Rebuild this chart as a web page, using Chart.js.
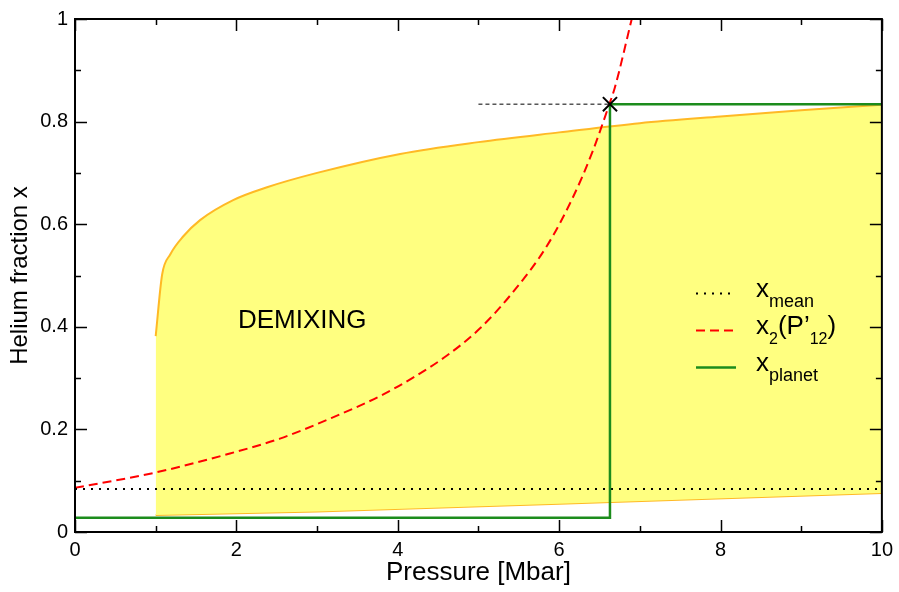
<!DOCTYPE html>
<html>
<head>
<meta charset="utf-8">
<title>Helium demixing</title>
<script src="https://cdn.jsdelivr.net/npm/chart.js@4.4.1/dist/chart.umd.min.js"></script>
<style>
  html, body { margin: 0; padding: 0; background: #fff; }
  canvas { display: block; }
</style>
</head>
<body>
<canvas id="myChart" width="899" height="592"></canvas>
<script>
// ------------------------------------------------------------------ data section
// demixing region (upper and lower boundary), pressure in Mbar
var upper_p = [1, 1.08, 1.18, 1.34, 1.55, 1.96, 2.38, 3.0, 4.03, 5, 6, 7, 8, 9, 10];
var upper_x = [0.382, 0.502, 0.541, 0.576, 0.608, 0.647, 0.672, 0.70, 0.737, 0.76, 0.779, 0.797, 0.810, 0.822, 0.833];
var lower_p = [1, 3, 6, 10];
var lower_x = [0.033, 0.040, 0.055, 0.076];

// x_mean
var mean_p = [0, 10];
var mean_x = [0.084, 0.084];

// x2(P'12)
var x2_p = [0, 1, 1.92, 2.54, 3.16, 3.78, 4.19, 4.61, 5.02, 5.43, 5.85, 6.17, 6.42, 6.62, 6.69, 6.9];
var x2_x = [0.086, 0.116, 0.153, 0.182, 0.221, 0.265, 0.301, 0.344, 0.397, 0.468, 0.558, 0.652, 0.744, 0.833, 0.866, 1.0];

// x_planet
var planet_p = [0, 6.63, 6.63, 10];
var planet_x = [0.028, 0.028, 0.834, 0.834];

// crossing point and guide line
var cross_p = [6.63];
var cross_x = [0.834];
var guide_p = [5.0, 6.63];
var guide_x = [0.834, 0.834];

// ticks
var x_ticks = [0, 2, 4, 6, 8, 10];
var x_minor = [1, 3, 5, 7, 9];
var y_ticks = [0, 0.2, 0.4, 0.6, 0.8, 1];
var y_minor = [0.1, 0.3, 0.5, 0.7, 0.9];

// legend texts: [text, is subscript]
var legend_labels = [
    [['x', false], ['mean', true]],
    [['x', false], ['2', true], ['(P\u2019', false], ['12', true], [')', false]],
    [['x', false], ['planet', true]]
];
var region_label = 'DEMIXING';
var region_label_at = [2.02, 0.397];

// ------------------------------------------------------------------ helpers
function pts(px, py) {
    return px.map(function (p, i) { return { x: p, y: py[i] }; });
}

var FONT = "'Liberation Sans', Arial, sans-serif";

// frame with inward ticks on all four sides
const frameTicks = {
    id: 'frameTicks',
    afterDatasetsDraw(chart) {
        const ctx = chart.ctx;
        const a = chart.chartArea;
        const xs = chart.scales.x, ys = chart.scales.y;
        ctx.save();
        ctx.strokeStyle = '#000';
        ctx.lineWidth = 1.5;
        ctx.beginPath();
        function xt(v, len) {
            var px = Math.round(xs.getPixelForValue(v)) + 0.5;
            ctx.moveTo(px, a.bottom); ctx.lineTo(px, a.bottom - len);
            ctx.moveTo(px, a.top); ctx.lineTo(px, a.top + len);
        }
        function yt(v, len) {
            var py = Math.round(ys.getPixelForValue(v)) + 0.5;
            ctx.moveTo(a.left, py); ctx.lineTo(a.left + len, py);
            ctx.moveTo(a.right, py); ctx.lineTo(a.right - len, py);
        }
        x_ticks.forEach(function (v) { xt(v, 12); });
        x_minor.forEach(function (v) { xt(v, 6); });
        y_ticks.forEach(function (v) { yt(v, 12); });
        y_minor.forEach(function (v) { yt(v, 6); });
        ctx.stroke();
        ctx.lineWidth = 2;
        ctx.strokeRect(a.left, a.top, a.right - a.left, a.bottom - a.top);
        ctx.restore();
    }
};

// legend with subscripts + region label
const textPlugin = {
    id: 'textPlugin',
    afterDatasetsDraw(chart) {
        const ctx = chart.ctx;
        const xs = chart.scales.x, ys = chart.scales.y;
        ctx.save();
        ctx.fillStyle = '#000';
        ctx.textBaseline = 'alphabetic';
        ctx.textAlign = 'left';

        ctx.font = '26px ' + FONT;
        ctx.fillText(region_label, xs.getPixelForValue(region_label_at[0]), ys.getPixelForValue(region_label_at[1]));

        var rows = [2, 3, 4]; // dataset index for each legend row
        var base = 297;
        rows.forEach(function (di, r) {
            var ds = chart.data.datasets[di];
            var by = base + r * 37;
            var ly = by - 3.5;
            ctx.save();
            ctx.strokeStyle = ds.borderColor;
            ctx.lineWidth = ds.borderWidth;
            ctx.setLineDash(ds.borderDash || []);
            ctx.beginPath();
            ctx.moveTo(696, ly);
            ctx.lineTo(736, ly);
            ctx.stroke();
            ctx.restore();

            var tx = 756;
            legend_labels[r].forEach(function (part) {
                if (part[1]) {
                    ctx.font = (/^\d+$/.test(part[0]) ? '16px ' : '18px ') + FONT;
                    ctx.fillText(part[0], tx, by + 10);
                } else {
                    ctx.font = '26px ' + FONT;
                    ctx.fillText(part[0], tx, by);
                }
                tx += ctx.measureText(part[0]).width;
            });
        });
        ctx.restore();
    }
};

// ------------------------------------------------------------------ chart
const ctx = document.getElementById('myChart').getContext('2d');
const myChart = new Chart(ctx, {
    type: 'line',
    data: {
        datasets: [{
            label: 'demixing upper',
            data: pts(upper_p, upper_x),
            borderColor: '#ffb925',
            backgroundColor: '#ffff80',
            borderWidth: 2,
            cubicInterpolationMode: 'monotone',
            fill: '+1',
            pointRadius: 0,
            order: 5
        }, {
            label: 'demixing lower',
            data: pts(lower_p, lower_x),
            borderColor: '#ffb925',
            borderWidth: 2,
            fill: false,
            pointRadius: 0,
            order: 5
        }, {
            label: 'x mean',
            data: pts(mean_p, mean_x),
            borderColor: '#000',
            borderWidth: 2,
            borderDash: [2, 6],
            fill: false,
            pointRadius: 0,
            order: 2
        }, {
            label: 'x2(P12)',
            data: pts(x2_p, x2_x),
            borderColor: '#ff0000',
            borderWidth: 2,
            borderDash: [9, 5],
            cubicInterpolationMode: 'monotone',
            fill: false,
            pointRadius: 0,
            order: 2
        }, {
            label: 'x planet',
            data: pts(planet_p, planet_x),
            borderColor: '#1c8c1c',
            borderWidth: 2.5,
            fill: false,
            pointRadius: 0,
            order: 1
        }, {
            label: 'guide',
            data: pts(guide_p, guide_x),
            borderColor: '#000',
            borderWidth: 1,
            borderDash: [4, 3],
            fill: false,
            pointRadius: 0,
            order: 1
        }, {
            label: 'crossing',
            data: pts(cross_p, cross_x),
            showLine: false,
            pointStyle: 'crossRot',
            pointRadius: 10,
            pointBorderColor: '#000',
            pointBorderWidth: 2,
            order: 0
        }]
    },
    plugins: [frameTicks, textPlugin],
    options: {
        responsive: false,
        animation: false,
        devicePixelRatio: 1,
        clip: 0,
        layout: { padding: { left: 0, right: 17, top: 16, bottom: 0 } },
        plugins: {
            legend: { display: false },
            tooltip: { enabled: false }
        },
        scales: {
            x: {
                type: 'linear',
                min: 0,
                max: 10,
                grid: { display: false, drawTicks: false },
                border: { display: false },
                afterBuildTicks: function (s) { s.ticks = x_ticks.map(function (v) { return { value: v }; }); },
                afterFit: function (s) { s.height = 60; },
                ticks: {
                    color: '#000',
                    font: { family: FONT, size: 20 },
                    padding: 6,
                    maxRotation: 0,
                    autoSkip: false,
                    callback: function (v) { return String(v); }
                },
                title: {
                    display: true,
                    text: 'Pressure [Mbar]',
                    color: '#000',
                    font: { family: FONT, size: 26 },
                    padding: { top: 0, bottom: 4 }
                }
            },
            y: {
                type: 'linear',
                min: 0,
                max: 1,
                grid: { display: false, drawTicks: false },
                border: { display: false },
                afterBuildTicks: function (s) { s.ticks = y_ticks.map(function (v) { return { value: v }; }); },
                afterFit: function (s) { s.width = 75; },
                ticks: {
                    color: '#000',
                    font: { family: FONT, size: 20 },
                    padding: 7,
                    autoSkip: false,
                    callback: function (v) { return String(v); }
                },
                title: {
                    display: true,
                    text: 'Helium fraction x',
                    color: '#000',
                    font: { family: FONT, size: 24 },
                    padding: { top: 6, bottom: 0 }
                }
            }
        }
    }
});
</script>
</body>
</html>
